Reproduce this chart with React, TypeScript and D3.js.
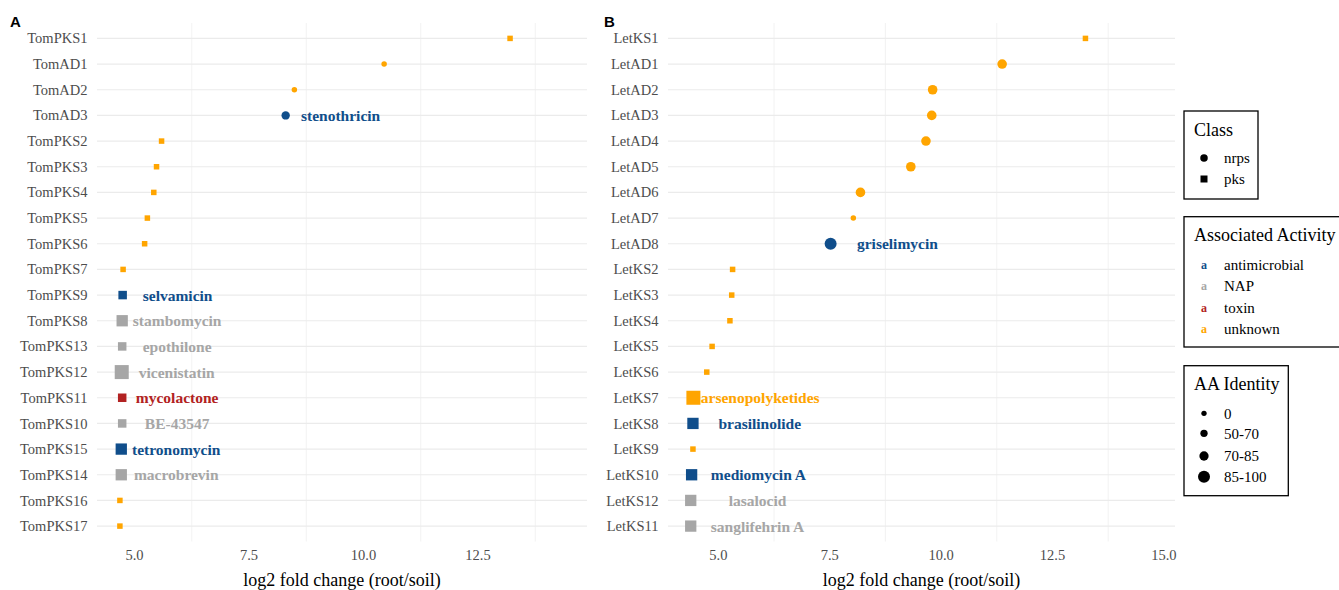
import React from 'react';
import * as d3 from 'd3';

// panel A: tomato rhizosphere genes
const tomGenes = ['TomPKS1', 'TomAD1', 'TomAD2', 'TomAD3', 'TomPKS2', 'TomPKS3', 'TomPKS4', 'TomPKS5', 'TomPKS6', 'TomPKS7',
  'TomPKS9', 'TomPKS8', 'TomPKS13', 'TomPKS12', 'TomPKS11', 'TomPKS10', 'TomPKS15', 'TomPKS14', 'TomPKS16', 'TomPKS17'];
const tomFold = [13.2, 10.45, 8.49, 8.3, 5.59, 5.48, 5.42, 5.28, 5.22, 4.75,
  4.74, 4.73, 4.73, 4.72, 4.73, 4.73, 4.71, 4.71, 4.68, 4.68];
const tomClass = ['pks', 'nrps', 'nrps', 'nrps', 'pks', 'pks', 'pks', 'pks', 'pks', 'pks',
  'pks', 'pks', 'pks', 'pks', 'pks', 'pks', 'pks', 'pks', 'pks', 'pks'];
const tomActivity = ['unknown', 'unknown', 'unknown', 'antimicrobial', 'unknown', 'unknown', 'unknown', 'unknown', 'unknown', 'unknown',
  'antimicrobial', 'NAP', 'NAP', 'NAP', 'toxin', 'NAP', 'antimicrobial', 'NAP', 'unknown', 'unknown'];
const tomIdentity = ['0', '0', '0', '50-70', '0', '0', '0', '0', '0', '0',
  '50-70', '70-85', '50-70', '85-100', '50-70', '50-70', '70-85', '70-85', '0', '0'];
const tomCompound = ['', '', '', 'stenothricin', '', '', '', '', '', '',
  'selvamicin', 'stambomycin', 'epothilone', 'vicenistatin', 'mycolactone', 'BE-43547', 'tetronomycin', 'macrobrevin', '', ''];

// panel B: lettuce rhizosphere genes
const letGenes = ['LetKS1', 'LetAD1', 'LetAD2', 'LetAD3', 'LetAD4', 'LetAD5', 'LetAD6', 'LetAD7', 'LetAD8', 'LetKS2',
  'LetKS3', 'LetKS4', 'LetKS5', 'LetKS6', 'LetKS7', 'LetKS8', 'LetKS9', 'LetKS10', 'LetKS12', 'LetKS11'];
const letFold = [13.24, 11.37, 9.81, 9.79, 9.66, 9.32, 8.19, 8.03, 7.52, 5.32,
  5.3, 5.26, 4.86, 4.74, 4.44, 4.43, 4.43, 4.4, 4.38, 4.38];
const letClass = ['pks', 'nrps', 'nrps', 'nrps', 'nrps', 'nrps', 'nrps', 'nrps', 'nrps', 'pks',
  'pks', 'pks', 'pks', 'pks', 'pks', 'pks', 'pks', 'pks', 'pks', 'pks'];
const letActivity = ['unknown', 'unknown', 'unknown', 'unknown', 'unknown', 'unknown', 'unknown', 'unknown', 'antimicrobial', 'unknown',
  'unknown', 'unknown', 'unknown', 'unknown', 'unknown', 'antimicrobial', 'unknown', 'antimicrobial', 'NAP', 'NAP'];
const letIdentity = ['0', '70-85', '70-85', '70-85', '70-85', '70-85', '70-85', '0', '85-100', '0',
  '0', '0', '0', '0', '85-100', '70-85', '0', '70-85', '70-85', '70-85'];
const letCompound = ['', '', '', '', '', '', '', '', 'griselimycin', '',
  '', '', '', '', 'arsenopolyketides', 'brasilinolide', '', 'mediomycin A', 'lasalocid', 'sanglifehrin A'];

const classes = ['nrps', 'pks'];
const activities = ['antimicrobial', 'NAP', 'toxin', 'unknown'];
const identities = ['0', '50-70', '70-85', '85-100'];
const xTicks = [5, 7.5, 10, 12.5, 15];

const colour = d3.scaleOrdinal<string, string>().domain(activities).range(['#104E8B', '#A6A6A6', '#B22222', '#FFA500']);
const circleSize = d3.scaleOrdinal<string, number>().domain(identities).range([5.5, 8.4, 9.6, 12]);
const squareSize = d3.scaleOrdinal<string, number>().domain(identities).range([5.5, 8.5, 11.3, 14]);

const serif = '"Liberation Serif", "Times New Roman", serif';
const sans = '"Liberation Sans", Arial, sans-serif';

type PanelProps = {
  tag: string;
  left: number;
  right: number;
  domain: [number, number];
  nudge: number;
  genes: string[];
  fold: number[];
  cls: string[];
  activity: string[];
  identity: string[];
  compound: string[];
};

function Mark({ x, y, shape, size, fill }: { x: number; y: number; shape: string; size: number; fill: string }) {
  if (shape === 'pks') return <rect x={x - size / 2} y={y - size / 2} width={size} height={size} fill={fill} />;
  return <circle cx={x} cy={y} r={size / 2} fill={fill} />;
}

function Panel(p: PanelProps) {
  const top = 23;
  const bottom = 541.5;
  const x = d3.scaleLinear().domain(p.domain).range([p.left, p.right]);
  const y = d3.scalePoint<string>().domain(p.genes).range([top, bottom]).padding(0.6);
  const ticks = xTicks.filter(t => t >= p.domain[0] && t <= p.domain[1]);
  const minor = d3.range(xTicks[0] - 1.25, 17, 2.5).filter(t => t > p.domain[0] && t < p.domain[1]);

  return (
    <g>
      <text x={p.tag === 'A' ? 10 : 604} y={26.5} fontFamily={sans} fontWeight="bold" fontSize={15}>{p.tag}</text>
      {minor.map(t => (
        <line key={t} x1={x(t)} x2={x(t)} y1={top} y2={bottom} stroke="#EFEFEF" strokeWidth={0.8} />
      ))}
      {p.genes.map(g => (
        <line key={g} x1={p.left} x2={p.right} y1={y(g)} y2={y(g)} stroke="#EBEBEB" strokeWidth={1.2} />
      ))}
      {p.genes.map(g => (
        <text key={g} x={p.left - 9.5} y={y(g)!} dy="0.35em" textAnchor="end" fontFamily={serif} fontSize={14.5} fill="#4D4D4D">{g}</text>
      ))}
      {ticks.map(t => (
        <text key={t} x={x(t)} y={560} textAnchor="middle" fontFamily={serif} fontSize={14.5} fill="#4D4D4D">{t.toFixed(1)}</text>
      ))}
      <text x={(p.left + p.right) / 2} y={585.5} textAnchor="middle" fontFamily={serif} fontSize={18}>log2 fold change (root/soil)</text>
      {p.genes.map((g, i) => (
        <Mark key={g} x={x(p.fold[i])} y={y(g)!} shape={p.cls[i]}
          size={p.cls[i] === 'pks' ? squareSize(p.identity[i]) : circleSize(p.identity[i])}
          fill={colour(p.activity[i])} />
      ))}
      {p.genes.map((g, i) => p.compound[i] ? (
        <text key={g} x={x(p.fold[i] + p.nudge)} y={y(g)!} dy="0.35em" textAnchor="middle" fontFamily={serif}
          fontWeight="bold" fontSize={15.5} fill={colour(p.activity[i])}>{p.compound[i]}</text>
      ) : null)}
    </g>
  );
}

function Legend() {
  const lx = 1184;
  const keyX = 1204;
  const labelX = 1224;
  const classRows = [158, 179];
  const actRows = [264.3, 285.7, 307.3, 328.7];
  const idRows = [413.3, 433.3, 456, 476.7];
  return (
    <g fontFamily={serif}>
      <rect x={lx} y={111} width={74} height={88} fill="white" stroke="black" strokeWidth={1.3} />
      <text x={1194} y={135.5} fontSize={18}>Class</text>
      {classes.map((c, i) => (
        <g key={c}>
          <Mark x={keyX} y={classRows[i]} shape={c} size={c === 'pks' ? 7 : 7.5} fill="black" />
          <text x={labelX} y={classRows[i]} dy="0.35em" fontSize={15}>{c}</text>
        </g>
      ))}

      <rect x={lx} y={216.7} width={165} height={130.3} fill="white" stroke="black" strokeWidth={1.3} />
      <text x={1194} y={241} fontSize={18}>Associated Activity</text>
      {activities.map((a, i) => (
        <g key={a}>
          <text x={keyX} y={actRows[i]} dy="0.35em" textAnchor="middle" fontSize={12} fontWeight="bold" fill={colour(a)}>a</text>
          <text x={labelX} y={actRows[i]} dy="0.35em" fontSize={15}>{a}</text>
        </g>
      ))}

      <rect x={lx} y={365.7} width={104.3} height={130} fill="white" stroke="black" strokeWidth={1.3} />
      <text x={1194} y={390} fontSize={18}>AA Identity</text>
      {identities.map((s, i) => (
        <g key={s}>
          <circle cx={keyX} cy={idRows[i]} r={[5.3, 7.3, 9.3, 12][i] / 2} fill="black" />
          <text x={labelX} y={idRows[i]} dy="0.35em" fontSize={15}>{s}</text>
        </g>
      ))}
    </g>
  );
}

export default function App() {
  return (
    <svg width={1339} height={590} style={{ position: 'absolute', left: 0, top: 0, display: 'block', background: 'white' }}>
      <Panel tag="A" left={97} right={587} domain={[4.18, 14.88]} nudge={1.2}
        genes={tomGenes} fold={tomFold} cls={tomClass} activity={tomActivity} identity={tomIdentity} compound={tomCompound} />
      <Panel tag="B" left={668} right={1175} domain={[3.87, 15.25]} nudge={1.5}
        genes={letGenes} fold={letFold} cls={letClass} activity={letActivity} identity={letIdentity} compound={letCompound} />
      <Legend />
    </svg>
  );
}
